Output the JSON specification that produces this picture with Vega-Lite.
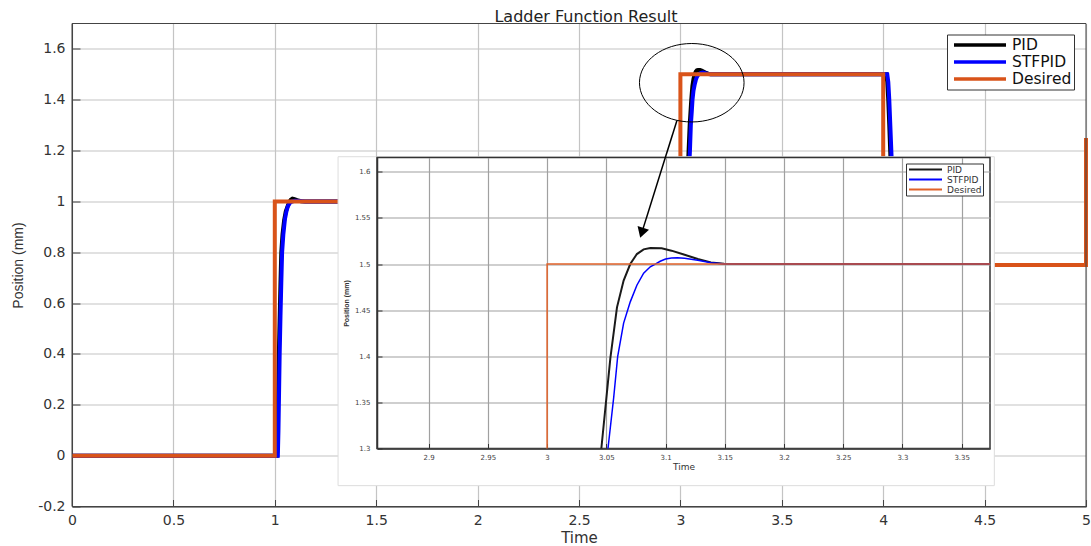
{
  "$schema": "https://vega.github.io/schema/vega-lite/v6.json",
  "background": "white",
  "padding": {"left": 11, "top": 8.5, "right": 0, "bottom": 0},
  "datasets": {
    "pid": [
      {"t": 0, "v": 0}, {"t": 1, "v": 0}, {"t": 1.01, "v": 0}, {"t": 1.013, "v": 0.1}, {"t": 1.017, "v": 0.27}, {"t": 1.02, "v": 0.4},
      {"t": 1.024, "v": 0.54}, {"t": 1.028, "v": 0.68}, {"t": 1.032, "v": 0.8}, {"t": 1.038, "v": 0.87}, {"t": 1.046, "v": 0.926},
      {"t": 1.054, "v": 0.96}, {"t": 1.062, "v": 0.978}, {"t": 1.07, "v": 0.995}, {"t": 1.078, "v": 1.006}, {"t": 1.087, "v": 1.011},
      {"t": 1.097, "v": 1.009}, {"t": 1.11, "v": 1.005}, {"t": 1.13, "v": 1.001}, {"t": 1.15, "v": 1.0}, {"t": 3.0, "v": 1.0},
      {"t": 3.02, "v": 1.0}, {"t": 3.025, "v": 1.015}, {"t": 3.03, "v": 1.05}, {"t": 3.035, "v": 1.11}, {"t": 3.04, "v": 1.19},
      {"t": 3.0458, "v": 1.3}, {"t": 3.0534, "v": 1.398}, {"t": 3.059, "v": 1.453}, {"t": 3.0646, "v": 1.482}, {"t": 3.0702, "v": 1.5},
      {"t": 3.0758, "v": 1.5108}, {"t": 3.0815, "v": 1.5159}, {"t": 3.0871, "v": 1.5174}, {"t": 3.0967, "v": 1.517}, {"t": 3.105, "v": 1.5145},
      {"t": 3.1161, "v": 1.5101}, {"t": 3.1272, "v": 1.5054}, {"t": 3.1383, "v": 1.5018}, {"t": 3.1494, "v": 1.5002}, {"t": 3.16, "v": 1.5},
      {"t": 4.0, "v": 1.5}, {"t": 4.015, "v": 1.5}, {"t": 4.02, "v": 1.47}, {"t": 4.025, "v": 1.4}, {"t": 4.03, "v": 1.3},
      {"t": 4.035, "v": 1.19}, {"t": 4.04, "v": 1.08}, {"t": 4.05, "v": 0.92}, {"t": 4.06, "v": 0.82}, {"t": 4.07, "v": 0.77},
      {"t": 4.08, "v": 0.745}, {"t": 4.09, "v": 0.738}, {"t": 4.1, "v": 0.737}, {"t": 4.12, "v": 0.742}, {"t": 4.15, "v": 0.748},
      {"t": 4.2, "v": 0.75}, {"t": 5.0, "v": 0.75}
    ],
    "stf": [
      {"t": 0, "v": 0}, {"t": 1, "v": 0}, {"t": 1.015, "v": 0}, {"t": 1.018, "v": 0.1}, {"t": 1.021, "v": 0.25}, {"t": 1.024, "v": 0.4},
      {"t": 1.028, "v": 0.55}, {"t": 1.032, "v": 0.68}, {"t": 1.036, "v": 0.8}, {"t": 1.042, "v": 0.87}, {"t": 1.05, "v": 0.93},
      {"t": 1.057, "v": 0.96}, {"t": 1.064, "v": 0.98}, {"t": 1.075, "v": 0.995}, {"t": 1.085, "v": 1.0}, {"t": 1.1, "v": 1.003},
      {"t": 1.12, "v": 1.002}, {"t": 1.15, "v": 1.0}, {"t": 3.0, "v": 1.0},
      {"t": 3.028, "v": 1.0}, {"t": 3.033, "v": 1.02}, {"t": 3.038, "v": 1.06}, {"t": 3.043, "v": 1.13}, {"t": 3.047, "v": 1.2},
      {"t": 3.0514, "v": 1.3}, {"t": 3.0562, "v": 1.355}, {"t": 3.0596, "v": 1.4}, {"t": 3.0646, "v": 1.436}, {"t": 3.0702, "v": 1.459},
      {"t": 3.0758, "v": 1.477}, {"t": 3.0815, "v": 1.49}, {"t": 3.0871, "v": 1.497}, {"t": 3.0913, "v": 1.5}, {"t": 3.0955, "v": 1.503},
      {"t": 3.1, "v": 1.5054}, {"t": 3.105, "v": 1.5065}, {"t": 3.11, "v": 1.5068}, {"t": 3.116, "v": 1.5062}, {"t": 3.1272, "v": 1.504},
      {"t": 3.1383, "v": 1.5014}, {"t": 3.15, "v": 1.5}, {"t": 4.0, "v": 1.5},
      {"t": 4.02, "v": 1.5}, {"t": 4.025, "v": 1.47}, {"t": 4.03, "v": 1.4}, {"t": 4.035, "v": 1.3}, {"t": 4.04, "v": 1.2},
      {"t": 4.045, "v": 1.1}, {"t": 4.055, "v": 0.94}, {"t": 4.065, "v": 0.84}, {"t": 4.075, "v": 0.79}, {"t": 4.085, "v": 0.765},
      {"t": 4.1, "v": 0.752}, {"t": 4.12, "v": 0.748}, {"t": 4.15, "v": 0.749}, {"t": 4.2, "v": 0.75}, {"t": 5.0, "v": 0.75}
    ],
    "des": [
      {"t": 0, "v": 0}, {"t": 1, "v": 0}, {"t": 1, "v": 1}, {"t": 3, "v": 1}, {"t": 3, "v": 1.5},
      {"t": 4, "v": 1.5}, {"t": 4, "v": 0.75}, {"t": 5, "v": 0.75}, {"t": 5, "v": 1.25}
    ]
  },
  "vconcat": [
    {
      "width": 1014,
      "height": 134,
      "view": {"stroke": null},
      "title": {"text": "Ladder Function Result", "font": "DejaVu Sans", "fontSize": 16, "fontWeight": "normal", "color": "#222", "offset": -2, "dx": 7},
      "resolve": {"axis": {"x": "independent"}},
      "layer": [
        {
          "data": {"name": "pid"},
          "mark": {"type": "line", "strokeWidth": 4, "clip": false},
          "encoding": {
            "x": {"field": "t", "type": "quantitative",
              "scale": {"domain": [0, 5], "nice": false, "zero": false},
              "axis": {"orient": "bottom", "offset": 349, "grid": false, "values": [0, 0.5, 1, 1.5, 2, 2.5, 3, 3.5, 4, 4.5, 5], "tickCount": 20, "format": "~g", "title": "Time",
                "labelFont": "DejaVu Sans", "labelFontSize": 14, "labelColor": "#333", "labelPadding": 14, "labelFlush": false,
                "tickSize": -7, "tickColor": "#444", "domainColor": "#444",
                "titleFont": "DejaVu Sans", "titleFontSize": 15, "titleFontWeight": "normal", "titleColor": "#333", "titlePadding": 3}},
            "y": {"field": "v", "type": "quantitative",
              "scale": {"domain": [-0.2, 1.7], "range": [483, 0], "nice": false, "zero": false},
              "axis": {"values": [-0.2, 0, 0.2, 0.4, 0.6, 0.8, 1, 1.2, 1.4, 1.6], "tickCount": 20, "format": "~g", "labelExpr": "replace(datum.label, '\u2212', '-')",
                "title": "Position (mm)", "labelFont": "DejaVu Sans", "labelFontSize": 14, "labelColor": "#333", "labelPadding": 15,
                "tickSize": -8, "tickColor": "#444", "domainColor": "#444", "gridColor": "#c4c4c4", "gridWidth": 1.2,
                "titleFont": "Liberation Sans", "titleFontSize": 14, "titleFontWeight": "normal", "titleColor": "#333", "titlePadding": 12}},
            "color": {"datum": "PID", "type": "nominal",
              "scale": {"domain": ["PID", "STFPID", "Desired"], "range": ["#000000", "#0000ff", "#d95319"]},
              "legend": {"title": null, "orient": "none", "legendX": 875, "legendY": 11, "symbolType": "stroke", "symbolSize": 2704,
                "symbolStrokeWidth": 3.5, "clipHeight": 17, "labelFont": "DejaVu Sans", "labelFontSize": 15.5, "labelColor": "#111",
                "labelOffset": 4, "symbolOffset": 3, "padding": 2, "rowPadding": 0, "strokeColor": "#333", "fillColor": "white"}}
          }
        },
        {
          "data": {"name": "stf"},
          "mark": {"type": "line", "strokeWidth": 4, "clip": false},
          "encoding": {
            "x": {"field": "t", "type": "quantitative",
              "axis": {"orient": "top", "grid": true, "labels": false, "ticks": false, "domain": false, "title": null,
                "values": [0, 0.5, 1, 1.5, 2, 2.5, 3, 3.5, 4, 4.5, 5], "tickCount": 20, "gridColor": "#c4c4c4", "gridWidth": 1.2}},
            "y": {"field": "v", "type": "quantitative"},
            "color": {"datum": "STFPID", "type": "nominal"}}
        },
        {
          "data": {"name": "des"},
          "mark": {"type": "line", "strokeWidth": 4, "clip": false},
          "encoding": {"x": {"field": "t", "type": "quantitative", "axis": null}, "y": {"field": "v", "type": "quantitative"}, "color": {"datum": "Desired", "type": "nominal"}}
        },
        {
          "data": {"values": [{}]},
          "mark": {"type": "rect", "fill": "white", "stroke": "#dddddd", "strokeWidth": 1},
          "encoding": {"x": {"datum": 1.312, "axis": null}, "x2": {"datum": 4.548}, "y": {"datum": 1.176}, "y2": {"datum": -0.118}}
        },
        {
          "data": {"values": [{}]},
          "mark": {"type": "rect", "fillOpacity": 0, "stroke": "#444", "strokeWidth": 1},
          "encoding": {"x": {"datum": 0, "axis": null}, "x2": {"datum": 5}, "y": {"datum": -0.2}, "y2": {"datum": 1.7}}
        },
        {
          "data": {"values": [{}]},
          "mark": {"type": "point", "shape": "M1,0C1,0.4142,0.5523,0.75,0,0.75C-0.5523,0.75,-1,0.4142,-1,0C-1,-0.4142,-0.5523,-0.75,0,-0.75C0.5523,-0.75,1,-0.4142,1,0Z",
            "size": 10941, "filled": false, "color": "black", "strokeWidth": 1, "opacity": 1},
          "encoding": {"x": {"datum": 3.056, "axis": null}, "y": {"datum": 1.467}}
        }
      ]
    },
    {
      "bounds": "flush",
      "spacing": 0,
      "resolve": {"scale": {"color": "independent"}, "legend": {"color": "independent"}},
      "hconcat": [
        {
          "width": 305,
          "height": 291,
          "view": {"stroke": null, "fill": null},
          "data": {"values": []},
          "mark": "point"
        },
        {
          "width": 613,
          "height": 291,
          "view": {"fill": "white", "stroke": "#333", "strokeWidth": 1.5},
          "layer": [
            {
              "data": {"name": "pid"},
              "mark": {"type": "line", "strokeWidth": 2, "clip": true},
              "encoding": {
                "x": {"field": "t", "type": "quantitative",
                  "scale": {"domain": [2.8564, 3.3739], "nice": false, "zero": false},
                  "axis": {"values": [2.9, 2.95, 3, 3.05, 3.1, 3.15, 3.2, 3.25, 3.3, 3.35], "tickCount": 20, "format": "~g", "title": "Time",
                    "labelFont": "DejaVu Sans", "labelFontSize": 7, "labelColor": "#444", "labelPadding": 10, "labelFlush": false,
                    "tickSize": -5, "tickColor": "#333", "domainColor": "#333", "domainWidth": 1.5, "gridColor": "#a0a0a0", "gridWidth": 1.2,
                    "titleFont": "DejaVu Sans", "titleFontSize": 9, "titleFontWeight": "normal", "titleColor": "#333", "titlePadding": 2}},
                "y": {"field": "v", "type": "quantitative",
                  "scale": {"domain": [1.3, 1.6155], "nice": false, "zero": false},
                  "axis": {"values": [1.3, 1.35, 1.4, 1.45, 1.5, 1.55, 1.6], "tickCount": 20, "format": "~g", "title": "Position (mm)",
                    "labelFont": "DejaVu Sans", "labelFontSize": 7, "labelColor": "#444", "labelPadding": 12,
                    "tickSize": -5, "tickColor": "#333", "domainColor": "#333", "domainWidth": 1.5, "gridColor": "#a0a0a0", "gridWidth": 1.2,
                    "titleFont": "Liberation Sans", "titleFontSize": 7, "titleFontWeight": "bold", "titleColor": "#333", "titlePadding": 5}},
                "color": {"datum": "PID", "type": "nominal",
                  "scale": {"domain": ["PID", "STFPID", "Desired"], "range": ["#1a1a1a", "#0000ff", "#e0622a"]},
                  "legend": {"title": null, "orient": "none", "legendX": 529, "legendY": 6, "symbolType": "stroke", "symbolSize": 1089,
                    "symbolStrokeWidth": 2, "clipHeight": 10, "labelFont": "DejaVu Sans", "labelFontSize": 9, "labelColor": "#333",
                    "labelOffset": 4, "symbolOffset": 1, "padding": 1, "rowPadding": 0, "strokeColor": "#333", "fillColor": "white"}}
              }
            },
            {
              "data": {"name": "stf"},
              "mark": {"type": "line", "strokeWidth": 1.5, "clip": true},
              "encoding": {"x": {"field": "t", "type": "quantitative"}, "y": {"field": "v", "type": "quantitative"}, "color": {"datum": "STFPID", "type": "nominal"}}
            },
            {
              "data": {"name": "des"},
              "mark": {"type": "line", "strokeWidth": 1.5, "clip": true},
              "encoding": {"x": {"field": "t", "type": "quantitative"}, "y": {"field": "v", "type": "quantitative"}, "color": {"datum": "Desired", "type": "nominal"}}
            },
            {
              "data": {"values": [{}]},
              "mark": {"type": "rule", "color": "black", "strokeWidth": 1.5, "clip": false},
              "encoding": {"x": {"datum": 3.1096}, "y": {"datum": 1.6556}, "x2": {"datum": 3.0799}, "y2": {"datum": 1.5338}}
            },
            {
              "data": {"values": [{}]},
              "mark": {"type": "point", "shape": "triangle-down", "angle": 17.5, "size": 144, "filled": true, "color": "black", "opacity": 1, "clip": false},
              "encoding": {"x": {"datum": 3.0799}, "y": {"datum": 1.5338}}
            }
          ]
        }
      ]
    }
  ],
  "bounds": "flush",
  "spacing": 0,
  "resolve": {"scale": {"color": "independent"}, "legend": {"color": "independent"}},
  "config": {
    "view": {"stroke": "#444", "strokeWidth": 1},
    "axis": {"gridOpacity": 1}
  }
}
